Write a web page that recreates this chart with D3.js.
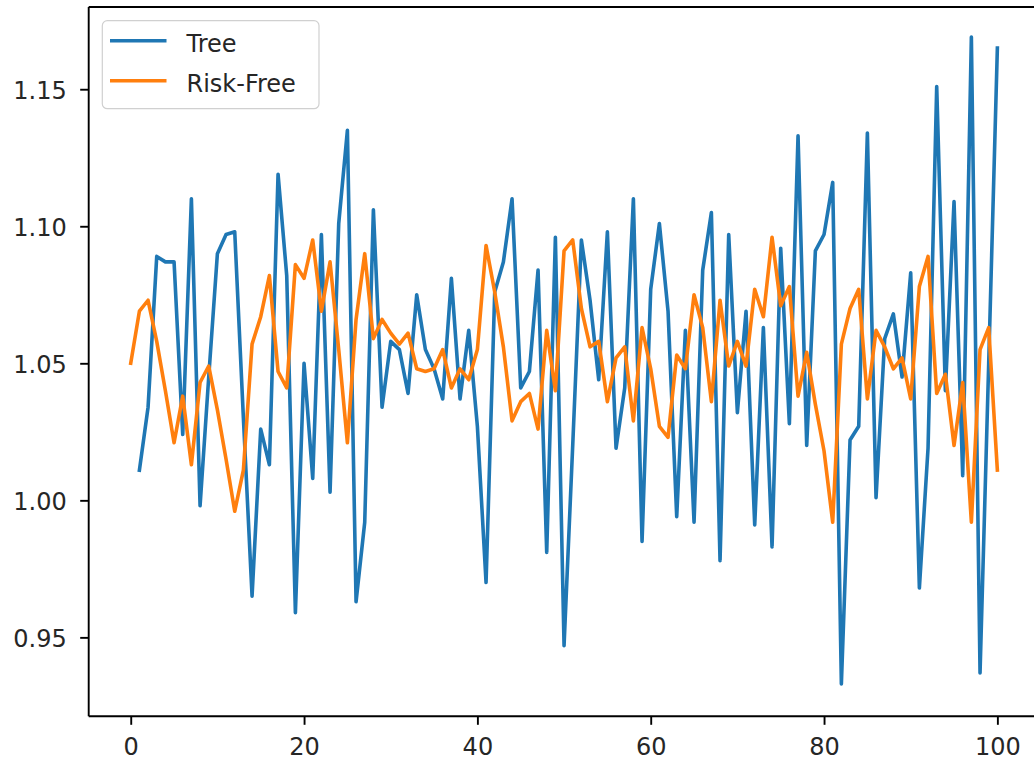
<!DOCTYPE html>
<html>
<head>
<meta charset="utf-8">
<script src="https://cdn.jsdelivr.net/npm/d3@7"></script>
<style>
  html, body { margin: 0; padding: 0; background: #fff; }
  svg { display: block; }
  text { font-family: "DejaVu Sans", sans-serif; }
</style>
</head>
<body>
<svg id="chart" width="1034" height="761"></svg>
<script>
// ---------- data ----------
const treeX = d3.range(1, 101);
const treeValues = [
  1.011, 1.034, 1.089, 1.087, 1.087, 1.024, 1.110, 0.998, 1.045, 1.090,
  1.097, 1.098, 1.030, 0.965, 1.026, 1.013, 1.119, 1.082, 0.959, 1.050,
  1.008, 1.097, 1.003, 1.101, 1.135, 0.963, 0.992, 1.106, 1.034, 1.058,
  1.055, 1.039, 1.075, 1.055, 1.048, 1.037, 1.081, 1.037, 1.062, 1.027,
  0.970, 1.076, 1.087, 1.110, 1.041, 1.047, 1.084, 0.981, 1.096, 0.947,
  1.020, 1.095, 1.073, 1.044, 1.098, 1.019, 1.041, 1.110, 0.985, 1.077,
  1.101, 1.069, 0.994, 1.062, 0.992, 1.084, 1.105, 0.978, 1.097, 1.032,
  1.069, 0.991, 1.063, 0.983, 1.092, 1.028, 1.133, 1.020, 1.091, 1.097,
  1.116, 0.933, 1.022, 1.027, 1.134, 1.001, 1.059, 1.068, 1.045, 1.083,
  0.968, 1.019, 1.151, 1.040, 1.109, 1.009, 1.169, 0.937, 1.050, 1.165
];
const riskFreeX = d3.range(0, 101);
const riskFreeValues = [
  1.050,
  1.069, 1.073, 1.058, 1.040, 1.021, 1.038, 1.013, 1.043, 1.049, 1.033,
  1.015, 0.996, 1.011, 1.057, 1.067, 1.082, 1.047, 1.041, 1.086, 1.081,
  1.095, 1.069, 1.087, 1.055, 1.021, 1.066, 1.090, 1.059, 1.066, 1.061,
  1.057, 1.061, 1.048, 1.047, 1.048, 1.055, 1.041, 1.048, 1.044, 1.055,
  1.093, 1.076, 1.056, 1.029, 1.036, 1.039, 1.026, 1.062, 1.040, 1.091,
  1.095, 1.070, 1.056, 1.058, 1.036, 1.052, 1.056, 1.029, 1.063, 1.048,
  1.027, 1.023, 1.053, 1.048, 1.075, 1.063, 1.036, 1.073, 1.049, 1.058,
  1.049, 1.077, 1.067, 1.096, 1.071, 1.078, 1.038, 1.054, 1.035, 1.018,
  0.992, 1.057, 1.070, 1.077, 1.037, 1.062, 1.056, 1.048, 1.052, 1.037,
  1.078, 1.089, 1.039, 1.046, 1.020, 1.043, 0.992, 1.055, 1.063, 1.011
];
const seriesNames = ["Tree", "Risk-Free"];
const seriesColors = ["#1f77b4", "#ff7f0e"];
const xTicks = [0, 20, 40, 60, 80, 100];
const yTicks = [0.95, 1.00, 1.05, 1.10, 1.15];

// ---------- layout ----------
const plotLeft = 87.4, plotRight = 1040.7, plotTop = 7, plotBottom = 716.3;
const fontSize = 24;

const svg = d3.select("#chart");
const x = d3.scaleLinear().domain([-5, 105]).range([plotLeft, plotRight]);
const y = d3.scaleLinear().domain([0.9212, 1.18]).range([plotBottom, plotTop]);

// lines
const line = d3.line().x(d => x(d[0])).y(d => y(d[1]));
const treeData = treeX.map((v, i) => [v, treeValues[i]]);
const rfData = riskFreeX.map((v, i) => [v, riskFreeValues[i]]);
const allSeries = [treeData, rfData];

svg.append("g").selectAll("path").data(allSeries).join("path")
  .attr("d", line)
  .attr("fill", "none")
  .attr("stroke", (d, i) => seriesColors[i])
  .attr("stroke-width", 3.6)
  .attr("stroke-linejoin", "round")
  .attr("stroke-linecap", "square");

// axes
const xAxis = svg.append("g").attr("transform", `translate(0,${plotBottom})`)
  .call(d3.axisBottom(x).tickValues(xTicks).tickFormat(d3.format("d"))
    .tickSize(8.5).tickPadding(13.2).tickSizeOuter(0));
const yAxis = svg.append("g").attr("transform", `translate(${plotLeft + 1.3},0)`)
  .call(d3.axisLeft(y).tickValues(yTicks).tickFormat(d3.format(".2f"))
    .tickSize(8.5).tickPadding(13.5).tickSizeOuter(0));
[xAxis, yAxis].forEach(g => {
  g.select(".domain").remove();
  g.selectAll(".tick line").attr("stroke", "#000").attr("stroke-width", 1.9);
  g.selectAll(".tick text").attr("fill", "#262626")
    .style("font-size", fontSize + "px").style("font-family", "DejaVu Sans, sans-serif");
});
yAxis.selectAll(".tick text").attr("dy", "0.4em");

// spines
const spines = svg.append("g").attr("stroke", "#000").attr("stroke-width", 1.9).attr("fill", "none");
spines.append("line").attr("x1", plotLeft + 1.3).attr("x2", plotLeft + 1.3).attr("y1", plotTop).attr("y2", plotBottom);
spines.append("line").attr("x1", plotLeft + 1.3).attr("x2", plotRight).attr("y1", plotBottom).attr("y2", plotBottom);
spines.append("line").attr("x1", plotLeft + 1.3).attr("x2", plotRight).attr("y1", plotTop).attr("y2", plotTop);
spines.append("line").attr("x1", plotRight).attr("x2", plotRight).attr("y1", plotTop).attr("y2", plotBottom);

// legend
const legend = svg.append("g");
legend.append("rect")
  .attr("x", 102.3).attr("y", 20.7).attr("width", 216.7).attr("height", 88)
  .attr("rx", 5).attr("ry", 5)
  .attr("fill", "rgba(255,255,255,0.8)")
  .attr("stroke", "#d0d0d0").attr("stroke-width", 1.2);
const legendRows = [40.7, 80.7];
seriesNames.forEach((name, i) => {
  legend.append("line")
    .attr("x1", 110).attr("x2", 166.5)
    .attr("y1", legendRows[i]).attr("y2", legendRows[i])
    .attr("stroke", seriesColors[i]).attr("stroke-width", 3.6);
  legend.append("text")
    .attr("x", 186.5).attr("y", legendRows[i] + 11.5)
    .attr("fill", "#262626")
    .style("font-size", fontSize + "px")
    .text(name);
});
</script>
</body>
</html>
